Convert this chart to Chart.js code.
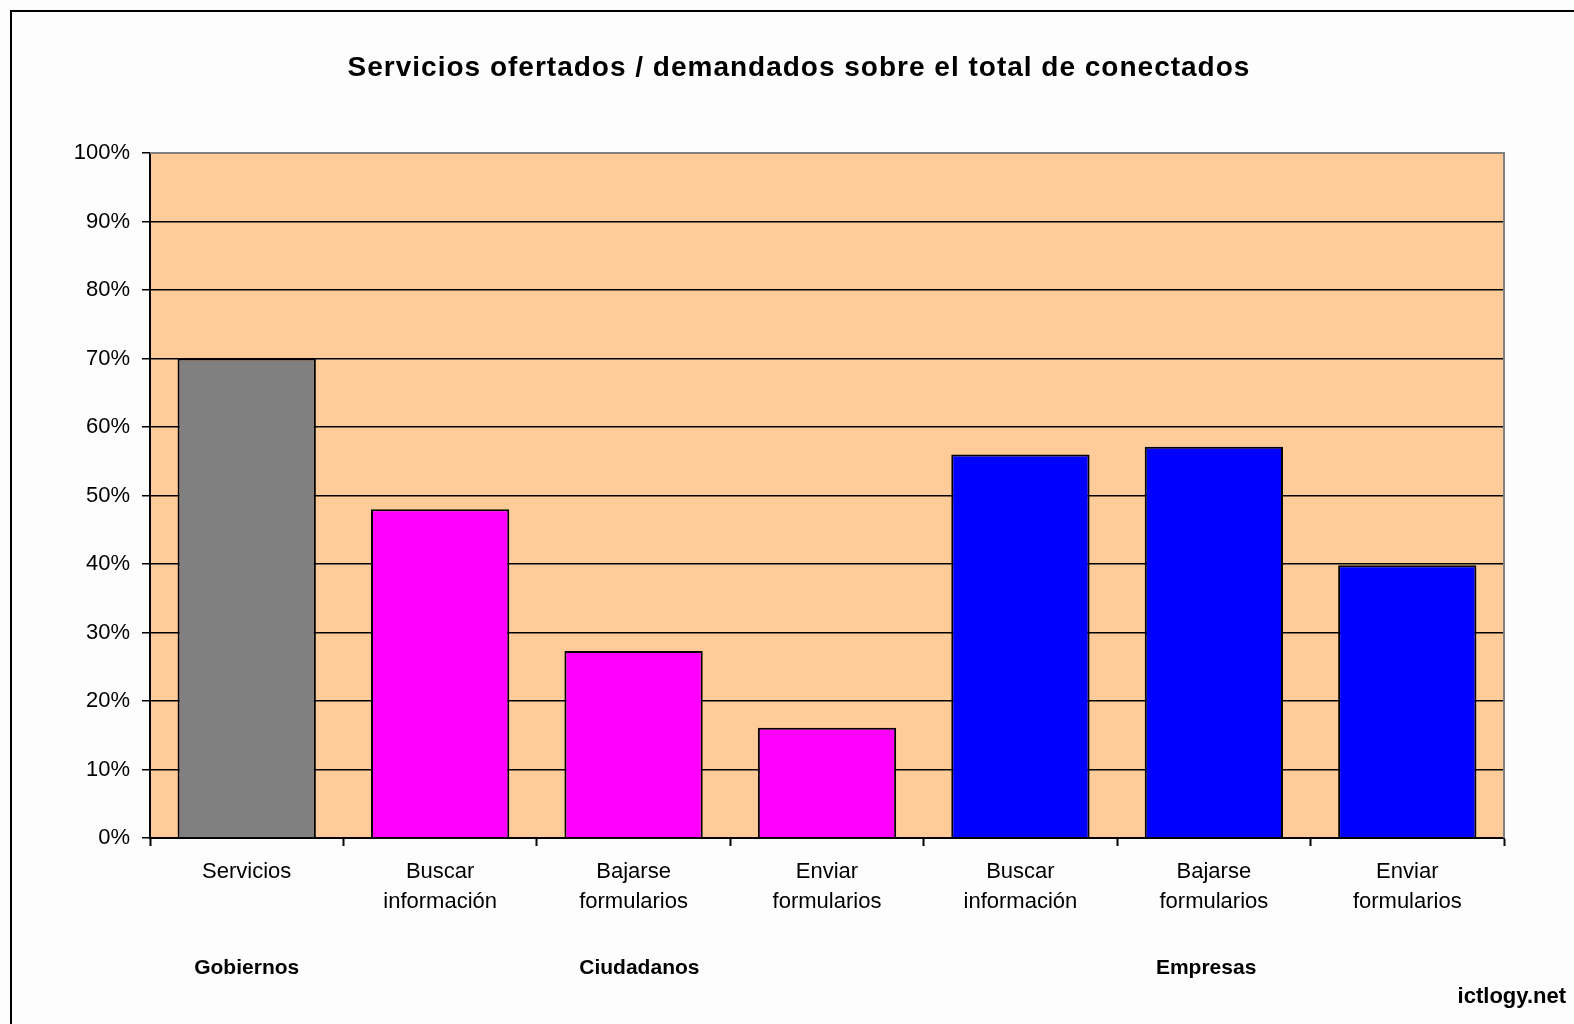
<!DOCTYPE html>
<html>
<head>
<meta charset="utf-8">
<script src="https://cdn.jsdelivr.net/npm/chart.js@4/dist/chart.umd.min.js"></script>
<style>
  html, body { margin: 0; padding: 0; background: #fff; }
  #wrap { width: 1574px; height: 1024px; }
</style>
</head>
<body>
<div id="wrap"><canvas id="myChart" width="1574" height="1024"></canvas></div>
<script>
// data
const categories = [
  ["Servicios"],
  ["Buscar", "información"],
  ["Bajarse", "formularios"],
  ["Enviar", "formularios"],
  ["Buscar", "información"],
  ["Bajarse", "formularios"],
  ["Enviar", "formularios"]
];
const values = [70, 48, 27.3, 16.1, 56, 57.1, 39.8];
const groups = [
  { label: "Gobiernos", at: 0 },
  { label: "Ciudadanos", at: 2.03 },
  { label: "Empresas", at: 4.96 }
];
const yTicks = [0, 10, 20, 30, 40, 50, 60, 70, 80, 90, 100];
const barColors = ["#808080", "#FF00FF", "#FF00FF", "#FF00FF", "#0000FF", "#0000FF", "#0000FF"];
const titleText = "Servicios ofertados / demandados sobre el total de conectados";

const FONT = "'Liberation Sans', Arial, sans-serif";

// frame, plot background, title, group names, watermark
const extras = {
  id: "extras",
  beforeDraw(chart) {
    const ctx = chart.ctx;
    const a = chart.chartArea;
    ctx.save();
    ctx.fillStyle = "#fdfdfd";
    ctx.fillRect(0, 0, chart.width, chart.height);
    ctx.strokeStyle = "#000";
    ctx.lineWidth = 2;
    ctx.beginPath();
    ctx.moveTo(11, chart.height);
    ctx.lineTo(11, 11);
    ctx.lineTo(chart.width, 11);
    ctx.stroke();
    ctx.fillStyle = "#FFCC99";
    ctx.fillRect(a.left, a.top, a.right - a.left, a.bottom - a.top);
    ctx.restore();
  },
  afterDraw(chart) {
    const ctx = chart.ctx;
    const a = chart.chartArea;
    const x = chart.scales.x;
    ctx.save();
    ctx.strokeStyle = "#808080";
    ctx.lineWidth = 2;
    ctx.beginPath();
    ctx.moveTo(a.left, a.top);
    ctx.lineTo(a.right, a.top);
    ctx.lineTo(a.right, a.bottom);
    ctx.stroke();

    ctx.fillStyle = "#000";
    ctx.textAlign = "center";
    ctx.textBaseline = "middle";
    ctx.font = "bold 28px " + FONT;
    ctx.letterSpacing = "1px";
    ctx.fillText(titleText, 799, 68);
    ctx.letterSpacing = "0px";

    ctx.font = "bold 21px " + FONT;
    groups.forEach(g => ctx.fillText(g.label, x.getPixelForValue(g.at), 968));
    ctx.font = "bold 22px " + FONT;
    ctx.textAlign = "right";
    ctx.fillText("ictlogy.net", 1566, 997);
    ctx.restore();
  }
};

new Chart(document.getElementById("myChart"), {
  type: "bar",
  data: {
    labels: categories,
    datasets: [{
      data: values,
      backgroundColor: barColors,
      borderColor: "#000",
      borderWidth: 2,
      barPercentage: 0.715,
      categoryPercentage: 1
    }]
  },
  options: {
    responsive: false,
    animation: false,
    layout: { padding: { left: 10, right: 70, top: 153, bottom: 0 } },
    plugins: {
      legend: { display: false },
      tooltip: { enabled: false },
      title: { display: false }
    },
    scales: {
      x: {
        afterFit: s => { s.height = 186; },
        grid: {
          drawOnChartArea: false,
          drawTicks: true,
          tickLength: 8,
          tickColor: "#000",
          tickWidth: 2
        },
        border: { color: "#000", width: 2 },
        ticks: {
          color: "#000",
          padding: 11,
          maxRotation: 0,
          autoSkip: false,
          font: { family: FONT, size: 22, lineHeight: 1.364 }
        }
      },
      y: {
        min: 0,
        max: 100,
        afterFit: s => { s.width = 140; },
        afterBuildTicks: s => { s.ticks = yTicks.map(v => ({ value: v })); },
        grid: {
          color: c => (c.tick && c.tick.value === 100 ? "#808080" : "#000"),
          lineWidth: 1.5,
          tickLength: 8,
          tickColor: "#000"
        },
        border: { color: "#000", width: 2 },
        ticks: {
          color: "#000",
          padding: 12,
          font: { family: FONT, size: 22 },
          callback: v => v + "%"
        }
      }
    }
  },
  plugins: [extras]
});
</script>
</body>
</html>
